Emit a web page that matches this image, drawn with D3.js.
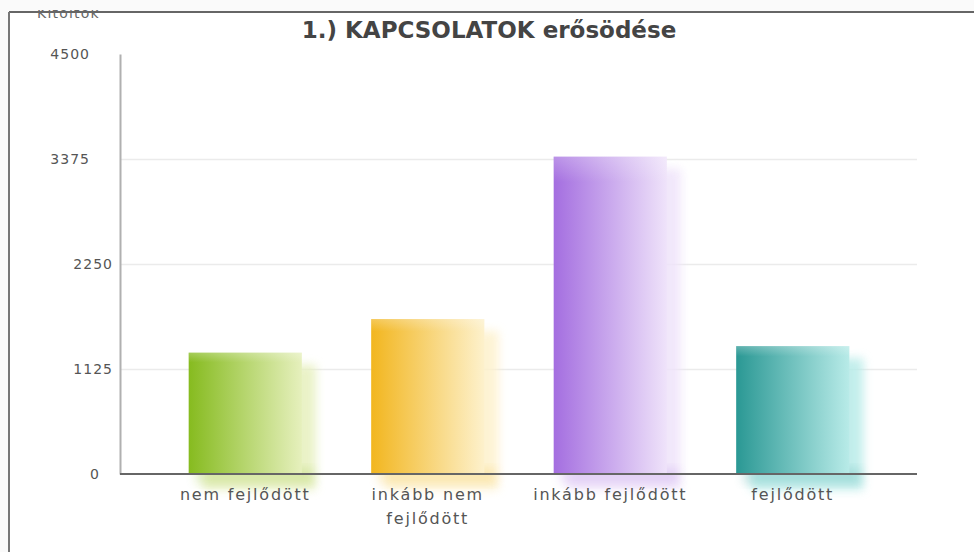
<!DOCTYPE html>
<html><head><meta charset="utf-8">
<script src="https://cdn.jsdelivr.net/npm/d3@7/dist/d3.min.js"></script>
<style>
html,body{margin:0;padding:0;background:#fafafa;}
svg{display:block;}
</style></head>
<body>
<svg id="c" width="974" height="552"></svg>
<script>
const categories = ["nem fejlődött", "inkább nem fejlődött", "inkább fejlődött", "fejlődött"];
const values = [1300, 1660, 3400, 1370];
const tickValues = [0, 1125, 2250, 3375, 4500];
const title = "1.) KAPCSOLATOK erősödése";
const yTitle = "Kitöltők";
const colorsDark = ["#86bb1f", "#f2b61f", "#a46ee0", "#2a9894"];
const colorsLight = ["#e6f0bd", "#fdf1cc", "#efe3fa", "#b8ebe8"];

const svg = d3.select("#c");
const defs = svg.append("defs");
const FONT = "DejaVu Sans, Verdana, sans-serif";

// Panel
svg.append("rect").attr("x", 9).attr("y", 12).attr("width", 974).attr("height", 560).attr("fill", "#fff");
svg.append("line").attr("x1", 9).attr("x2", 974).attr("y1", 12).attr("y2", 12).attr("stroke", "#666").attr("stroke-width", 2);
svg.append("line").attr("x1", 9).attr("x2", 9).attr("y1", 12).attr("y2", 552).attr("stroke", "#777").attr("stroke-width", 2);

const x0 = 120, x1 = 917, yTop = 54, yBase = 474;
const y = d3.scaleLinear().domain([0, 4500]).range([yBase, yTop]);
const x = d3.scaleBand().domain(categories).range([154, 884]).paddingInner(0.38).paddingOuter(0.19);

// clip for cut-off y title
defs.append("clipPath").attr("id", "topclip").append("rect").attr("x", 0).attr("y", 10).attr("width", 974).attr("height", 540);
svg.append("text").attr("clip-path", "url(#topclip)")
  .attr("x", 37).attr("y", 18).attr("font-family", FONT).attr("font-size", 14)
  .attr("letter-spacing", "1.2px").attr("fill", "#666").text(yTitle);

// Title
svg.append("text").attr("x", 489).attr("y", 38).attr("text-anchor", "middle")
  .attr("font-family", FONT).attr("font-weight", "bold").attr("font-size", 23)
  .attr("fill", "#444").text(title);

// Gridlines
svg.append("g").selectAll("line").data(tickValues.filter(v => v > 0 && v < 4500)).join("line")
  .attr("x1", x0).attr("x2", x1).attr("y1", d => Math.round(y(d)) + 0.5).attr("y2", d => Math.round(y(d)) + 0.5)
  .attr("stroke", "#ebebeb").attr("stroke-width", 1.5);

// Gradients and blur
const blur = defs.append("filter").attr("id", "blur").attr("x", "-30%").attr("y", "-30%").attr("width", "160%").attr("height", "160%");
blur.append("feGaussianBlur").attr("stdDeviation", 5);
categories.forEach((c, i) => {
  const g = defs.append("linearGradient").attr("id", "g" + i).attr("x1", "0").attr("x2", "1").attr("y1", "0").attr("y2", "0");
  g.append("stop").attr("offset", "0").attr("stop-color", colorsDark[i]);
  g.append("stop").attr("offset", "1").attr("stop-color", colorsLight[i]);
  const v = defs.append("linearGradient").attr("id", "v" + i).attr("x1", "0").attr("x2", "0").attr("y1", "0").attr("y2", "1");
  v.append("stop").attr("offset", "0").attr("stop-color", "#fff").attr("stop-opacity", 0.25);
  v.append("stop").attr("offset", "0.08").attr("stop-color", "#fff").attr("stop-opacity", 0);
  v.append("stop").attr("offset", "1").attr("stop-color", "#fff").attr("stop-opacity", 0);
});

// Shadows
svg.append("g").selectAll("rect").data(values).join("rect")
  .attr("x", (d, i) => x(categories[i]) + 14).attr("y", d => y(d) + 12)
  .attr("width", x.bandwidth()).attr("height", d => yBase - y(d) + 4)
  .attr("fill", (d, i) => colorsLight[i]).attr("opacity", 0.85).attr("filter", "url(#blur)");
// faint glow below baseline
svg.append("g").selectAll("rect").data(values).join("rect")
  .attr("x", (d, i) => x(categories[i]) + 6).attr("y", yBase - 6)
  .attr("width", x.bandwidth() + 6).attr("height", 16)
  .attr("fill", (d, i) => colorsDark[i]).attr("opacity", 0.18).attr("filter", "url(#blur)");

// Bars
svg.append("g").selectAll("rect").data(values).join("rect")
  .attr("x", (d, i) => x(categories[i])).attr("y", d => y(d))
  .attr("width", x.bandwidth()).attr("height", d => yBase - y(d))
  .attr("fill", (d, i) => `url(#g${i})`);
svg.append("g").selectAll("rect").data(values).join("rect")
  .attr("x", (d, i) => x(categories[i])).attr("y", d => y(d))
  .attr("width", x.bandwidth()).attr("height", d => yBase - y(d))
  .attr("fill", (d, i) => `url(#v${i})`);

// Y axis
const yAxis = svg.append("g").attr("transform", `translate(${x0},0)`)
  .call(d3.axisLeft(y).tickValues(tickValues).tickFormat(d3.format("d")).tickSize(0).tickPadding(0));
yAxis.select(".domain").attr("stroke", "#b0b0b0").attr("stroke-width", 2);
const labelRight = v => (v >= 3375 ? 90 : (v === 0 ? 100 : 113));
yAxis.selectAll(".tick text")
  .attr("x", d => labelRight(d) - x0)
  .attr("dy", "0.35em")
  .attr("font-family", FONT).attr("font-size", 14).attr("letter-spacing", "1px").attr("fill", "#555");

// Baseline
svg.append("line").attr("x1", x0).attr("x2", x1).attr("y1", yBase).attr("y2", yBase)
  .attr("stroke", "#666").attr("stroke-width", 2);

// X axis labels with wrapping
const xAxis = svg.append("g").attr("transform", `translate(0,${yBase})`)
  .call(d3.axisBottom(x).tickSize(0).tickPadding(0));
xAxis.select(".domain").remove();
xAxis.selectAll(".tick text").each(function(d) {
  const t = d3.select(this);
  t.text(null).attr("y", 0).attr("dy", null)
    .attr("font-family", FONT).attr("font-size", 16).attr("fill", "#555")
    .attr("letter-spacing", "1.8px");
  const lines = d === "inkább nem fejlődött" ? ["inkább nem", "fejlődött"] : [d];
  lines.forEach((ln, k) => t.append("tspan").attr("x", 0).attr("y", 26 + k * 24).text(ln));
});
</script>
</body></html>
